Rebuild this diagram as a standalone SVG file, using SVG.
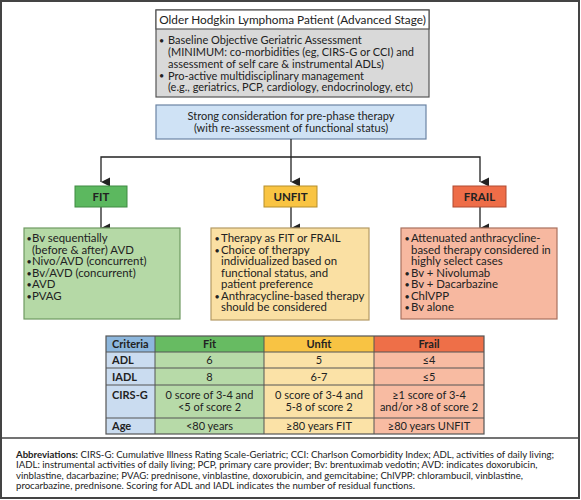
<svg xmlns="http://www.w3.org/2000/svg" width="581" height="500" viewBox="0 0 581 500">
<style>
text{font-family:Lato,"Open Sans","Liberation Sans",sans-serif;fill:#222}
.t{font-size:11.8px}
.b{font-size:11px}
.x{font-size:11.4px}
.u{font-size:9px}
.c{text-anchor:middle}
.bold{font-weight:bold}
.lab{font-size:11.5px;font-weight:bold;text-anchor:middle}
.tb{font-size:11px}
.ab{font-size:9.6px}
.conn{stroke:#222;stroke-width:1.3;fill:none}
.grid{stroke:#555;stroke-width:1}
</style>
<defs>
<marker id="ah" markerUnits="userSpaceOnUse" markerWidth="10" markerHeight="10" refX="4.5" refY="9" orient="auto-start-reverse" viewBox="0 0 9 10">
<path d="M0,0 L9,0 L4.5,9 Z" fill="#222"/>
</marker>
</defs>
<rect x="1" y="1" width="578" height="497" fill="#fff" stroke="#444" stroke-width="2"/>
<line x1="1" y1="438" x2="579" y2="438" stroke="#444" stroke-width="1.5"/>

<g id="patient">
<rect x="156" y="10" width="273" height="87" fill="#d9d9d9" stroke="#555" stroke-width="1.2"/>
<rect x="156" y="10" width="273" height="19" fill="#fff" stroke="#555" stroke-width="1.2"/>
<text class="t c" x="292.5" y="24">Older Hodgkin Lymphoma Patient (Advanced Stage)</text>
<text class="b" y="44"><tspan class="u" x="159" dy="-0.5">•</tspan><tspan x="168" dy="0.5">Baseline Objective Geriatric Assessment</tspan></text>
<text class="b" x="168" y="56">(MINIMUM: co-morbidities (eg, CIRS-G or CCI) and</text>
<text class="b" x="168" y="68">assessment of self care &amp; instrumental ADLs)</text>
<text class="b" y="79.5"><tspan class="u" x="159" dy="-0.5">•</tspan><tspan x="168" dy="0.5">Pro-active multidisciplinary management</tspan></text>
<text class="b" x="168" y="91">(e.g., geriatrics, PCP, cardiology, endocrinology, etc)</text>
</g>

<g id="prephase">
<rect x="156" y="105" width="270" height="34" fill="#cfe2f5" stroke="#6b84a3" stroke-width="1.2"/>
<text class="b c" x="291" y="120">Strong consideration for pre-phase therapy</text>
<text class="b c" x="291" y="131.5">(with re-assessment of functional status)</text>
</g>

<g id="connectors">
<polyline class="conn" points="291,139 291,157"/>
<polyline class="conn" points="101,182 101,157 480,157 480,182" marker-start="url(#ah)" marker-end="url(#ah)"/>
<line class="conn" x1="291" y1="157" x2="291" y2="182" marker-end="url(#ah)"/>
<line class="conn" x1="101" y1="207" x2="101" y2="228" marker-end="url(#ah)"/>
<line class="conn" x1="291" y1="207" x2="291" y2="228" marker-end="url(#ah)"/>
<line class="conn" x1="480" y1="207" x2="480" y2="228" marker-end="url(#ah)"/>
</g>

<g id="fit">
<rect x="75" y="186" width="52" height="21" fill="#5cb85f" stroke="#3f8a42" stroke-width="1"/>
<text class="lab" x="101" y="200.5">FIT</text>
</g>
<g id="unfit">
<rect x="264" y="186" width="53" height="21" fill="#f9c443" stroke="#b58e2b" stroke-width="1"/>
<text class="lab" x="290.5" y="200.5">UNFIT</text>
</g>
<g id="frail">
<rect x="453" y="186" width="53" height="21" fill="#ee6d48" stroke="#b04a30" stroke-width="1"/>
<text class="lab" x="479.5" y="200.5">FRAIL</text>
</g>

<g id="fit-therapy">
<rect x="24" y="228" width="156" height="91" fill="#b5d9a6" stroke="#6f9a62" stroke-width="1.2"/>
<text class="x" y="242"><tspan class="u" x="26.5">•</tspan><tspan x="32">Bv sequentially</tspan></text>
<text class="x" x="32" y="253.5">(before &amp; after) AVD</text>
<text class="x" y="265"><tspan class="u" x="26.5">•</tspan><tspan x="32">Nivo/AVD (concurrent)</tspan></text>
<text class="x" y="276.5"><tspan class="u" x="26.5">•</tspan><tspan x="32">Bv/AVD (concurrent)</tspan></text>
<text class="x" y="288"><tspan class="u" x="26.5">•</tspan><tspan x="32">AVD</tspan></text>
<text class="x" y="299.5"><tspan class="u" x="26.5">•</tspan><tspan x="32">PVAG</tspan></text>
</g>

<g id="unfit-therapy">
<rect x="211" y="228" width="158" height="92" fill="#fae0a3" stroke="#b49a64" stroke-width="1.2"/>
<text class="x" y="242"><tspan class="u" x="214.5">•</tspan><tspan x="221">Therapy as FIT or FRAIL</tspan></text>
<text class="x" y="253.5"><tspan class="u" x="214.5">•</tspan><tspan x="221">Choice of therapy</tspan></text>
<text class="x" x="221" y="265">individualized based on</text>
<text class="x" x="221" y="276.5">functional status, and</text>
<text class="x" x="221" y="288">patient preference</text>
<text class="x" y="299.5"><tspan class="u" x="214.5">•</tspan><tspan x="221">Anthracycline-based therapy</tspan></text>
<text class="x" x="221" y="311">should be considered</text>
</g>

<g id="frail-therapy">
<rect x="401" y="228" width="156" height="91" fill="#f7b8a0" stroke="#a8705e" stroke-width="1.2"/>
<text class="x" y="242"><tspan class="u" x="404.5">•</tspan><tspan x="411">Attenuated anthracycline-</tspan></text>
<text class="x" x="411" y="253.5">based therapy considered in</text>
<text class="x" x="411" y="265">highly select cases</text>
<text class="x" y="276.5"><tspan class="u" x="404.5">•</tspan><tspan x="411">Bv + Nivolumab</tspan></text>
<text class="x" y="288"><tspan class="u" x="404.5">•</tspan><tspan x="411">Bv + Dacarbazine</tspan></text>
<text class="x" y="299.5"><tspan class="u" x="404.5">•</tspan><tspan x="411">ChlVPP</tspan></text>
<text class="x" y="311"><tspan class="u" x="404.5">•</tspan><tspan x="411">Bv alone</tspan></text>
</g>

<g id="criteria-table">
<rect x="106" y="336" width="49" height="16" fill="#8db7dd"/>
<rect x="106" y="352" width="49" height="82" fill="#cadcf0"/>
<rect x="155" y="336" width="109" height="16" fill="#67bb62"/>
<rect x="155" y="352" width="109" height="82" fill="#b7daa8"/>
<rect x="264" y="336" width="110" height="16" fill="#f8c343"/>
<rect x="264" y="352" width="110" height="82" fill="#fbe2a7"/>
<rect x="374" y="336" width="110" height="16" fill="#ee6f48"/>
<rect x="374" y="352" width="110" height="82" fill="#f8bba2"/>
<g class="grid">
<line x1="106" y1="352" x2="484" y2="352"/>
<line x1="106" y1="368" x2="484" y2="368"/>
<line x1="106" y1="385" x2="484" y2="385"/>
<line x1="106" y1="418" x2="484" y2="418"/>
<line x1="155" y1="336" x2="155" y2="434"/>
<line x1="264" y1="336" x2="264" y2="434"/>
<line x1="374" y1="336" x2="374" y2="434"/>
<rect x="106" y="336" width="378" height="98" fill="none" stroke-width="1.2"/>
</g>
<text class="tb bold" x="112" y="348" fill="#1d2f4a">Criteria</text>
<text class="tb bold c" x="209.5" y="348">Fit</text>
<text class="tb bold c" x="319" y="348">Unfit</text>
<text class="tb bold c" x="429" y="348">Frail</text>
<text class="tb bold" x="112" y="364">ADL</text>
<text class="tb c" x="209.5" y="364">6</text>
<text class="tb c" x="319" y="364">5</text>
<text class="tb c" x="429" y="364">≤4</text>
<text class="tb bold" x="112" y="380.5">IADL</text>
<text class="tb c" x="209.5" y="380.5">8</text>
<text class="tb c" x="319" y="380.5">6-7</text>
<text class="tb c" x="429" y="380.5">≤5</text>
<text class="tb bold" x="112" y="399">CIRS-G</text>
<text class="tb c" x="209.5" y="399">0 score of 3-4 and</text>
<text class="tb c" x="209.5" y="411">&lt;5 of score 2</text>
<text class="tb c" x="319" y="399">0 score of 3-4 and</text>
<text class="tb c" x="319" y="411">5-8 of score 2</text>
<text class="tb c" x="429" y="399">≥1 score of 3-4</text>
<text class="tb c" x="429" y="411">and/or &gt;8 of score 2</text>
<text class="tb bold" x="112" y="430">Age</text>
<text class="tb c" x="209.5" y="430">&lt;80 years</text>
<text class="tb c" x="319" y="430">≥80 years FIT</text>
<text class="tb c" x="429" y="430">≥80 years UNFIT</text>
</g>

<g id="abbreviations">
<text class="ab" x="16" y="457.5"><tspan font-weight="bold">Abbreviations:</tspan> CIRS-G: Cumulative Illness Rating Scale-Geriatric; CCI: Charlson Comorbidity Index; ADL, activities of daily living;</text>
<text class="ab" x="16" y="468">IADL: instrumental activities of daily living; PCP, primary care provider; Bv: brentuximab vedotin; AVD: indicates doxorubicin,</text>
<text class="ab" x="16" y="478.5">vinblastine, dacarbazine; PVAG: prednisone, vinblastine, doxorubicin, and gemcitabine; ChlVPP: chlorambucil, vinblastine,</text>
<text class="ab" x="16" y="489">procarbazine, prednisone. Scoring for ADL and IADL indicates the number of residual functions.</text>
</g>
</svg>
